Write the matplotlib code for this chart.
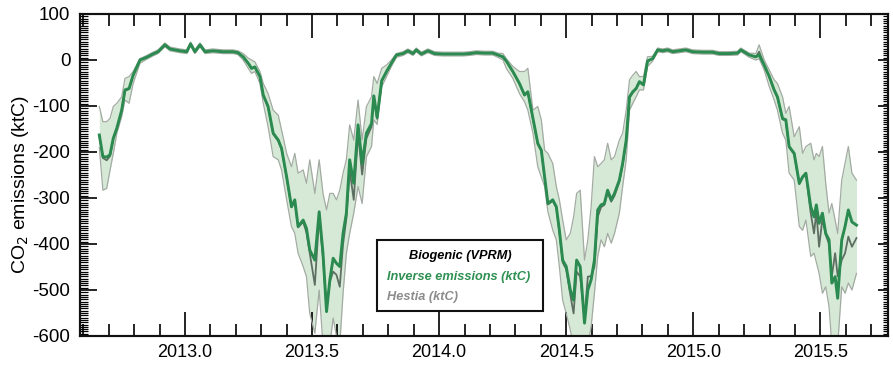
import matplotlib
matplotlib.use("Agg")
import matplotlib.pyplot as plt
from matplotlib.ticker import MultipleLocator, FormatStrFormatter
from matplotlib.patches import Rectangle

# decimal year of each weekly estimate
years = [2012.663, 2012.677, 2012.692, 2012.705, 2012.718, 2012.732, 2012.751, 2012.764, 2012.780, 2012.796,
         2012.823, 2012.850, 2012.874, 2012.894, 2012.921, 2012.941, 2012.961, 2012.980, 2013.007, 2013.022,
         2013.039, 2013.059, 2013.079, 2013.110, 2013.149, 2013.189, 2013.208, 2013.229, 2013.249, 2013.262,
         2013.275, 2013.295, 2013.308, 2013.327, 2013.347, 2013.367, 2013.380, 2013.400, 2013.419, 2013.432,
         2013.445, 2013.465, 2013.478, 2013.491, 2013.511, 2013.528, 2013.543, 2013.557, 2013.570, 2013.583,
         2013.596, 2013.609, 2013.622, 2013.635, 2013.648, 2013.664, 2013.681, 2013.697, 2013.714, 2013.734,
         2013.743, 2013.756, 2013.774, 2013.793, 2013.812, 2013.832, 2013.858, 2013.877, 2013.897, 2013.910,
         2013.930, 2013.956, 2013.982, 2014.015, 2014.054, 2014.094, 2014.120, 2014.146, 2014.179, 2014.211,
         2014.231, 2014.251, 2014.264, 2014.290, 2014.316, 2014.336, 2014.349, 2014.369, 2014.388, 2014.402,
         2014.415, 2014.428, 2014.447, 2014.461, 2014.473, 2014.486, 2014.500, 2014.516, 2014.529, 2014.541,
         2014.555, 2014.572, 2014.585, 2014.598, 2014.611, 2014.624, 2014.637, 2014.650, 2014.663, 2014.677,
         2014.690, 2014.709, 2014.722, 2014.736, 2014.749, 2014.762, 2014.775, 2014.788, 2014.804, 2014.820,
         2014.840, 2014.860, 2014.879, 2014.899, 2014.919, 2014.945, 2014.971, 2014.997, 2015.037, 2015.076,
         2015.102, 2015.141, 2015.174, 2015.187, 2015.220, 2015.246, 2015.259, 2015.279, 2015.299, 2015.318,
         2015.331, 2015.351, 2015.364, 2015.377, 2015.397, 2015.417, 2015.430, 2015.443, 2015.462, 2015.475,
         2015.484, 2015.495, 2015.508, 2015.521, 2015.534, 2015.545, 2015.558, 2015.568, 2015.584, 2015.597,
         2015.610, 2015.624, 2015.642]

# Inverse emissions (ktC)
inverse = [-163, -210, -211, -206, -170, -148, -109, -65, -62, -33,
           0, 6, 13, 18, 33, 24, 22, 20, 18, 35,
           18, 33, 18, 20, 18, 18, 16, 7, -7, -18,
           -15, -36, -76, -101, -159, -174, -192, -254, -319, -304,
           -362, -348, -366, -413, -435, -330, -420, -547, -478, -431,
           -442, -449, -377, -333, -217, -268, -141, -225, -159, -138,
           -78, -125, -45, -25, -7, 11, 14, 20, 14, 22,
           13, 20, 14, 13, 13, 13, 14, 16, 15, 15,
           11, 7, -2, -25, -51, -76, -69, -127, -181, -196,
           -254, -312, -304, -319, -370, -435, -449, -500, -522, -435,
           -449, -572, -500, -478, -435, -326, -315, -312, -283, -304,
           -290, -261, -225, -174, -80, -69, -62, -47, -54, -2,
           3, 22, 20, 22, 18, 20, 22, 18, 17, 17,
           14, 14, 15, 22, 11, 7, 11, -11, -36, -65,
           -80, -127, -130, -188, -203, -268, -254, -246, -319, -341,
           -315, -355, -333, -377, -391, -485, -471, -518, -391, -362,
           -326, -352, -359]

# Hestia (ktC)
hestia = [-165, -213, -218, -209, -172, -150, -110, -67, -63, -34,
          0, 6, 13, 18, 33, 24, 22, 20, 18, 35,
          18, 33, 18, 20, 18, 18, 16, 6, -8, -19,
          -16, -37, -77, -103, -161, -176, -194, -256, -320, -306,
          -364, -352, -375, -420, -489, -340, -430, -540, -482, -460,
          -467, -493, -400, -345, -240, -304, -160, -249, -170, -145,
          -82, -128, -46, -26, -7, 11, 14, 20, 14, 22,
          13, 20, 14, 13, 13, 13, 14, 16, 15, 15,
          11, 6, -3, -26, -52, -77, -71, -129, -183, -198,
          -256, -314, -306, -321, -372, -440, -455, -510, -551, -460,
          -471, -560, -471, -470, -449, -341, -320, -315, -288, -308,
          -295, -265, -228, -176, -82, -71, -63, -48, -55, -3,
          3, 22, 20, 22, 18, 20, 22, 18, 17, 17,
          14, 14, 15, 22, 11, 6, 18, -12, -37, -66,
          -82, -129, -132, -190, -205, -270, -256, -248, -333, -377,
          -330, -406, -345, -380, -400, -470, -420, -470, -435, -420,
          -384, -406, -387]

# uncertainty envelope (ktC)
band_low = [-190, -283, -279, -240, -203, -159, -123, -87, -94, -51,
            -7, 2, 9, 14, 29, 20, 18, 16, 14, 31,
            14, 29, 14, 16, 14, 14, 12, 0, -18, -29,
            -25, -51, -94, -145, -210, -217, -239, -304, -362, -377,
            -420, -449, -471, -551, -594, -500, -620, -620, -620, -561,
            -600, -620, -507, -420, -377, -333, -275, -312, -210, -188,
            -130, -140, -58, -36, -14, 6, 10, 16, 10, 18,
            9, 16, 10, 9, 9, 9, 10, 12, 11, 11,
            6, 0, -18, -40, -73, -91, -109, -159, -232, -254,
            -275, -330, -370, -391, -449, -522, -551, -587, -620, -620,
            -620, -620, -620, -580, -507, -427, -391, -406, -377, -398,
            -377, -333, -275, -217, -109, -94, -80, -65, -65, -14,
            -2, 18, 16, 18, 14, 16, 18, 14, 13, 13,
            10, 10, 11, 18, 6, 0, 3, -22, -58, -87,
            -109, -159, -174, -246, -261, -362, -370, -348, -427, -420,
            -440, -464, -507, -493, -536, -620, -620, -620, -493, -507,
            -485, -500, -464]

band_high = [-101, -134, -134, -127, -101, -94, -80, -40, -36, -25,
             3, 10, 17, 22, 37, 28, 26, 24, 22, 39,
             22, 37, 22, 24, 22, 22, 20, 14, 4, 0,
             -4, -25, -51, -73, -109, -120, -152, -203, -232, -203,
             -246, -239, -268, -217, -290, -217, -290, -326, -290, -290,
             -304, -283, -246, -217, -141, -174, -87, -174, -101, -80,
             -36, -51, -18, -11, 0, 14, 18, 24, 18, 26,
             17, 24, 18, 17, 17, 17, 18, 20, 19, 19,
             15, 14, 3, -14, -25, -25, -18, -109, -101, -130,
             -196, -203, -225, -275, -304, -348, -391, -377, -341, -290,
             -283, -435, -391, -319, -210, -232, -225, -217, -181, -217,
             -210, -174, -159, -109, -43, -33, -25, -36, -36, 7,
             8, 26, 24, 26, 22, 24, 26, 22, 21, 21,
             18, 18, 19, 26, 15, 14, 33, 0, -22, -43,
             -51, -80, -116, -101, -167, -145, -203, -188, -181, -217,
             -203, -210, -188, -268, -333, -312, -348, -377, -261, -225,
             -188, -246, -261]

x_ticks = [2013.0, 2013.5, 2014.0, 2014.5, 2015.0, 2015.5]
y_ticks = [100, 0, -100, -200, -300, -400, -500, -600]

FONT = ['Liberation Sans', 'DejaVu Sans']
plt.rcParams['font.family'] = FONT
plt.rcParams['axes.unicode_minus'] = False

fig = plt.figure(figsize=(8.93, 3.66), dpi=100)
ax = fig.add_axes([80 / 893, 30 / 366, 808 / 893, 322 / 366])

ax.fill_between(years, band_low, band_high, color='#d6e9d6', lw=0, zorder=1)
ax.plot(years, band_low, color='#a3aba3', lw=0.9, zorder=2)
ax.plot(years, band_high, color='#a3aba3', lw=0.9, zorder=2)
ax.plot(years, hestia, color='#5d6f62', lw=1.3, zorder=3)
ax.plot(years, inverse, color='#2b8a4f', lw=2.1, zorder=4)

ax.set_xlim(2012.587, 2015.766)
ax.set_ylim(-600, 100)
ax.set_xticks(x_ticks)
ax.xaxis.set_major_formatter(FormatStrFormatter('%.1f'))
ax.xaxis.set_minor_locator(MultipleLocator(0.1))
ax.set_yticks(y_ticks)
ax.yaxis.set_minor_locator(MultipleLocator(5))

ax.tick_params(axis='x', which='major', direction='in', top=True, bottom=True,
               length=17, width=1.2, labelsize=13, pad=6)
ax.tick_params(axis='x', which='minor', direction='in', top=True, bottom=True,
               length=8.5, width=1.2)
ax.tick_params(axis='y', which='major', direction='in', left=True, right=False,
               length=12, width=1.2, labelsize=13.5, pad=7)
ax.tick_params(axis='y', which='minor', direction='in', left=True, right=False,
               length=5.5, width=0.9)

axr = ax.twinx()
axr.set_ylim(-600, 100)
axr.set_yticks(y_ticks)
axr.yaxis.set_minor_locator(MultipleLocator(5))
axr.tick_params(axis='y', which='major', direction='in', length=7, width=1.2, labelright=False)
axr.tick_params(axis='y', which='minor', direction='in', length=3.5, width=0.9)

for a in (ax, axr):
    for s in a.spines.values():
        s.set_linewidth(1.5)
        s.set_color('#111111')

ax.set_ylabel('CO$_2$ emissions (ktC)', fontsize=14)
ax.yaxis.set_label_coords((31 - 80) / 808, 0.47)

# legend box
ax.add_patch(Rectangle(((377 - 80) / 808, (336 - 311) / 322),
                       (543 - 377) / 808, (311 - 240) / 322, transform=ax.transAxes,
                       facecolor='white', edgecolor='#111111', lw=1.5, zorder=10))
lx = (387 - 80) / 808
ax.text((460 - 80) / 808, (336 - 256) / 322, 'Biogenic (VPRM)', transform=ax.transAxes,
        ha='center', va='center', fontsize=9.2, fontweight='bold', fontstyle='italic',
        color='black', zorder=11)
ax.text(lx, (336 - 277) / 322, 'Inverse emissions (ktC)', transform=ax.transAxes,
        ha='left', va='center', fontsize=9.2, fontweight='bold', fontstyle='italic',
        color='#2e9052', zorder=11)
ax.text(lx, (336 - 297) / 322, 'Hestia (ktC)', transform=ax.transAxes,
        ha='left', va='center', fontsize=9.2, fontweight='bold', fontstyle='italic',
        color='#8c8c8c', zorder=11)

fig.savefig('out.png', dpi=100)
